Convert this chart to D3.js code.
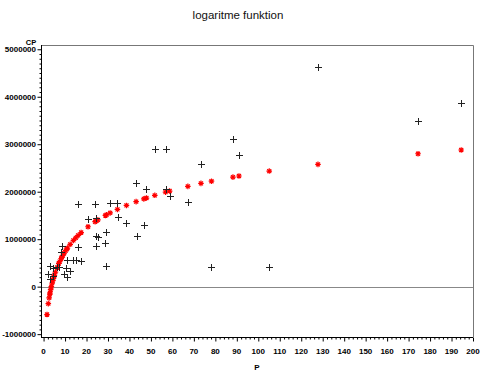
<!DOCTYPE html>
<html lang="en">
<head>
<meta charset="UTF-8">
<title>logaritme funktion</title>
<style>
    body { margin: 0; background: #fff; }
    svg { display: block; }
    text { font-family: "Liberation Sans", Arial, sans-serif; }
    .tick-label { font-size: 8px; font-weight: bold; fill: #000; }
</style>
</head>
<body>
<div id="chart"></div>
<script src="https://d3js.org/d3.v7.min.js"></script>
<script>
// observed points (black plus)
const obsP = [2.9, 4.6, 6.3, 7.1, 2.2, 4.3, 3.0, 10.3, 12.4, 9.6, 10.8, 8.5, 8.2, 11.1, 13.9, 15.0, 17.5,
    16.1, 16.2, 24.0, 20.7, 24.2, 24.6, 25.3, 24.2, 29.1, 28.8, 29.3, 31.0, 34.4, 34.6, 38.6, 43.1, 43.4,
    46.7, 47.9, 51.8, 56.8, 56.8, 58.7, 67.2, 73.3, 78.2, 88.2, 91.0, 105.1, 127.8, 174.4, 194.5];
const obsCP = [440000, 400000, 410000, 410000, 270000, 230000, 160000, 390000, 320000, 260000, 210000,
    860000, 730000, 560000, 560000, 560000, 550000, 840000, 1750000, 1740000, 1420000, 1440000, 1070000,
    1040000, 850000, 1160000, 930000, 440000, 1770000, 1770000, 1470000, 1350000, 2190000, 1070000,
    1290000, 2060000, 2900000, 2890000, 2050000, 1900000, 1780000, 2590000, 410000, 3100000, 2770000,
    410000, 4630000, 3490000, 3870000];

// fitted values (red stars)
const fitP = [1.6, 2.2, 2.6, 2.9, 3.0, 3.3, 3.6, 4.0, 4.3, 4.6, 5.0, 5.5, 6.3, 7.1, 7.5, 8.2, 8.5, 9.0,
    9.6, 10.3, 10.8, 11.1, 12.4, 13.9, 15.0, 16.1, 17.5, 20.7, 24.0, 24.6, 25.3, 28.8, 29.3, 31.0, 34.4,
    38.6, 43.1, 46.7, 47.9, 51.8, 56.8, 58.7, 67.2, 73.3, 78.2, 88.2, 91.0, 105.1, 127.8, 174.4, 194.5];
const fitCP = [-587000, -357000, -236000, -157000, -133000, -64000, -1000, 75000, 127000, 176000, 236000,
    305000, 403000, 489000, 529000, 593000, 619000, 660000, 707000, 758000, 792000, 812000, 892000,
    974000, 1029000, 1080000, 1140000, 1262000, 1368000, 1386000, 1407000, 1500000, 1513000, 1553000,
    1628000, 1711000, 1791000, 1849000, 1867000, 1924000, 1991000, 2014000, 2112000, 2175000, 2221000,
    2308000, 2331000, 2435000, 2576000, 2800000, 2879000];

const xTicks = d3.range(0, 201, 10);
const yTicks = [-1000000, 0, 1000000, 2000000, 3000000, 4000000, 5000000];

const width = 481, height = 378;
const plotLeft = 41, plotRight = 473, plotTop = 45, plotBottom = 337;

const svg = d3.select('#chart').append('svg')
    .attr('width', width)
    .attr('height', height);

const x = d3.scaleLinear().domain([-1.2, 200]).range([plotLeft, plotRight]);
const y = d3.scaleLinear().domain([-1060000, 5090000]).range([plotBottom, plotTop]);

// title
svg.append('text')
    .attr('x', 238).attr('y', 19)
    .attr('text-anchor', 'middle')
    .style('font-size', '11.5px')
    .style('fill', '#111')
    .text('logaritme funktion');

// frame (top + right)
svg.append('path')
    .attr('d', `M${plotLeft},${plotTop + 0.5}H${plotRight + 0.5}V${plotBottom}`)
    .attr('fill', 'none')
    .attr('stroke', '#777')
    .attr('stroke-width', 1);

// zero reference line
svg.append('line')
    .attr('x1', plotLeft).attr('x2', plotRight)
    .attr('y1', Math.round(y(0)) + 0.5).attr('y2', Math.round(y(0)) + 0.5)
    .attr('stroke', '#888');

// x axis
const xAxis = svg.append('g')
    .attr('transform', `translate(0,${plotBottom + 0.5})`)
    .call(d3.axisBottom(x).tickValues(d3.range(0, 201, 2)).tickSize(2).tickFormat(''));
xAxis.select('.domain').attr('d', `M${plotLeft},0H${plotRight}`);
xAxis.selectAll('.tick line').filter(d => d % 10 === 0).attr('y2', 4);

svg.append('g').selectAll('text')
    .data(xTicks)
    .join('text')
    .attr('class', 'tick-label')
    .attr('x', d => x(d))
    .attr('y', 354)
    .attr('text-anchor', 'middle')
    .text(d => d);

// y axis
const yAxis = svg.append('g')
    .attr('transform', `translate(${plotLeft + 0.5},0)`)
    .call(d3.axisLeft(y).tickValues(d3.range(-1000000, 5000001, 100000)).tickSize(2).tickFormat(''));
yAxis.select('.domain').attr('d', `M0,${plotBottom}V${plotTop}`);
yAxis.selectAll('.tick line').filter(d => Math.round(d) % 1000000 === 0).attr('x2', -4);

svg.append('g').selectAll('text')
    .data(yTicks)
    .join('text')
    .attr('class', 'tick-label')
    .attr('x', 36)
    .attr('y', d => y(d) + 3)
    .attr('text-anchor', 'end')
    .text(d => d);

// axis titles
svg.append('text').attr('class', 'tick-label')
    .attr('x', 31).attr('y', 44.5).attr('text-anchor', 'middle').style('font-size', '7.5px').text('CP');
svg.append('text').attr('class', 'tick-label')
    .attr('x', 257).attr('y', 370).attr('text-anchor', 'middle').text('P');

// fitted stars
const fit = fitP.map((p, i) => ({ p: p, cp: fitCP[i] }));
svg.append('g').selectAll('path')
    .data(fit)
    .join('path')
    .attr('d', d => {
        const cx = x(d.p), cy = y(d.cp), r = 2.8, q = 2;
        return `M${cx - r},${cy}H${cx + r}M${cx},${cy - r}V${cy + r}` +
            `M${cx - q},${cy - q}L${cx + q},${cy + q}M${cx - q},${cy + q}L${cx + q},${cy - q}`;
    })
    .attr('stroke', '#f00')
    .attr('stroke-width', 1.2)
    .attr('fill', 'none');

// observed plus signs
const obs = obsP.map((p, i) => ({ p: p, cp: obsCP[i] }));
svg.append('g').selectAll('path')
    .data(obs)
    .join('path')
    .attr('d', d => {
        const cx = Math.round(x(d.p)) + 0.5, cy = Math.round(y(d.cp)) + 0.5;
        return `M${cx - 3.5},${cy}H${cx + 3.5}M${cx},${cy - 3.5}V${cy + 3.5}`;
    })
    .attr('stroke', '#222')
    .attr('stroke-width', 1)
    .attr('fill', 'none');
</script>
</body>
</html>
